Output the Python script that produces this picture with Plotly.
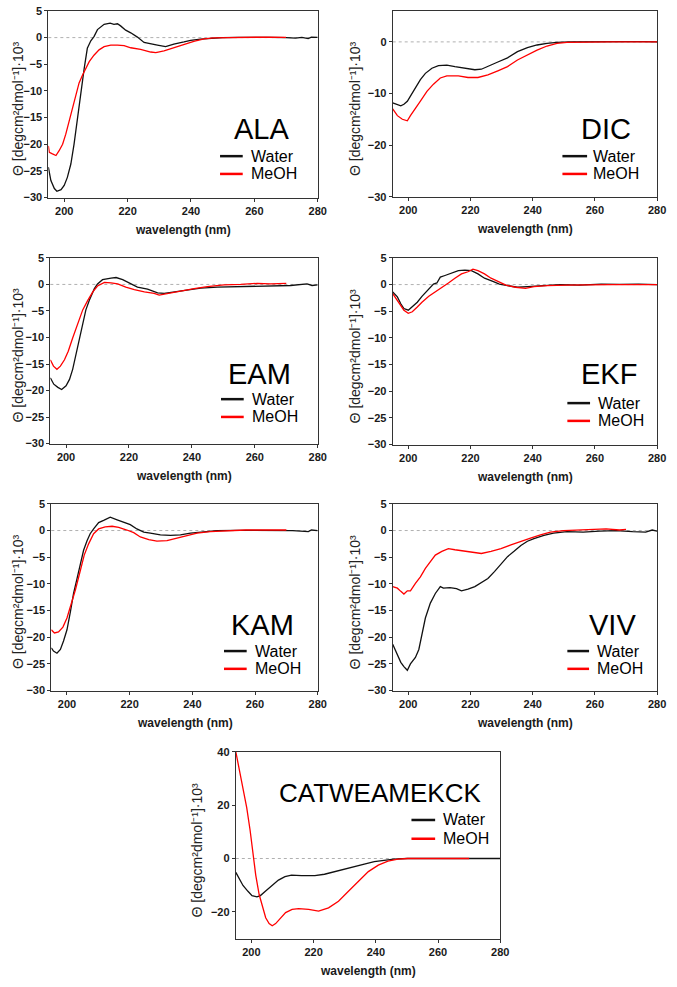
import plotly.graph_objects as go

W, H = 677, 987

# ---------------- data (wavelength in nm, ellipticity x10^3) ----------------
ala_water_nm = [195, 195.8, 196.9, 197.7, 199, 200, 201, 202.1, 203.1, 204.2, 205.2, 206.3, 207.3, 208.4, 209.4,
                210.5, 212.6, 214.5, 215.7, 216.8, 217.8, 219.4, 221, 223.1, 225.2, 227.3, 229.4, 232, 234.6,
                237.8, 239.9, 243, 246.2, 250, 255, 260, 265, 270, 273, 275, 277, 278, 280]
ala_water_cd = [-24.3, -26.8, -28.3, -28.8, -28.5, -27.7, -26.2, -23.7, -20, -15, -10, -5.8, -2, -0.6, 0.2,
                1.5, 2.5, 2.7, 2.5, 2.6, 2.2, 1.4, 0.9, 0.1, -0.9, -1.1, -1.4, -1.7, -1.2,
                -0.8, -0.5, -0.3, -0.1, 0, 0.05, 0.1, 0.05, 0, -0.1, 0.05, -0.2, 0.1, 0.05]
ala_meoh_nm = [195, 195.3, 196.3, 197.4, 198.4, 199.5, 200.5, 201.6, 202.6, 203.7, 204.7, 205.8, 206.8, 207.9,
               209.4, 211, 212.6, 214.7, 216.8, 218.9, 221, 224.1, 227.3, 228.9, 231.5, 234.6, 237.8, 240.9,
               244.1, 247.2, 252, 258, 264, 270]
ala_meoh_cd = [-20.3, -21.5, -21.8, -22.1, -21.2, -20, -18.1, -15.6, -13.2, -10.7, -8.5, -7, -5.8, -4.5,
               -3.3, -2.3, -1.7, -1.4, -1.4, -1.5, -1.9, -2.2, -2.7, -2.8, -2.5, -1.9, -1.3, -0.7,
               -0.25, -0.05, 0, 0.1, 0.1, 0.05]

dic_water_nm = [195, 196.5, 197.6, 198.6, 199.7, 200.7, 202.3, 203.9, 205.5, 207.6, 209.7, 212.4, 215, 218.2,
                221.4, 223.5, 225.6, 228.8, 231.9, 235.1, 238.3, 241.4, 244.6, 247.8, 252, 258, 264, 270, 276, 280]
dic_water_cd = [-11.8, -12.1, -12.4, -12.1, -11.5, -10.5, -8.9, -7.3, -6.1, -5.1, -4.6, -4.5, -4.8, -5.1,
                -5.4, -5.3, -4.8, -3.9, -3.1, -1.9, -1.1, -0.6, -0.3, -0.1, 0, 0.05, 0.1, 0.05, 0.05, 0]
dic_meoh_nm = [195, 196.5, 198.1, 199.7, 200.7, 202.3, 203.9, 206, 208.1, 210.3, 212.4, 216.1, 219.2, 222.4,
               225.6, 228.8, 231.9, 235.1, 238.3, 241.4, 244.6, 247.8, 251, 258, 265, 272, 280]
dic_meoh_cd = [-13, -14.3, -15, -15.3, -14.3, -13, -11.5, -9.6, -8.2, -7, -6.6, -6.6, -6.9, -6.9,
               -6.4, -5.6, -4.8, -3.5, -2.5, -1.6, -0.8, -0.3, -0.1, 0, 0, 0, 0]

eam_water_nm = [195, 196.1, 197.4, 198.6, 200, 201.1, 202.1, 203.2, 204.2, 205.3, 206.3, 207.4, 209, 210,
                211.6, 214.3, 215.9, 218, 220.1, 222.7, 225.9, 229.1, 231.2, 234.4, 238.6, 242.8, 248.1,
                254.4, 260.8, 267.1, 271.4, 276.6, 278.2, 280]
eam_water_cd = [-17.6, -18.8, -19.4, -19.8, -19.1, -17.9, -16, -13.2, -10.1, -7.3, -4.8, -3, -0.8, 0.1,
                0.9, 1.2, 1.3, 0.9, 0.3, -0.5, -0.9, -1.6, -1.7, -1.4, -1.1, -0.7, -0.5,
                -0.4, -0.4, -0.3, -0.2, 0.1, -0.2, -0.1]
eam_meoh_nm = [195, 196, 197.1, 198.2, 199.5, 200.7, 202.1, 203.7, 205.3, 206.9, 208.5, 210, 212.2, 214.3,
               216.4, 219, 221.7, 224.9, 228, 229.6, 232.2, 236.5, 240.7, 244.9, 250.2, 255.5, 260.8, 265, 269.2, 270]
eam_meoh_cd = [-14.2, -15.4, -16, -15.4, -14.2, -12.6, -10.1, -7.3, -4.8, -3, -1.4, -0.3, 0.4, 0.3,
               0.1, -0.5, -1, -1.4, -1.7, -2, -1.7, -1.2, -0.8, -0.4, -0.1, 0, 0.2, 0.1, 0.3, 0.2]

ekf_water_nm = [195, 196.5, 197.6, 198.6, 200, 201.3, 202.9, 204.4, 206.6, 208.1, 209.2, 210.3, 211.8, 213.9,
                216.1, 218.2, 220.3, 222.4, 224.5, 227.2, 229.3, 231.9, 235.1, 238.3, 242.5, 248.8, 255, 262,
                268, 274, 280]
ekf_water_cd = [-1.4, -2.3, -3.6, -4.5, -4.8, -4.2, -3.3, -2.2, -0.8, 0.1, 0.3, 1.4, 1.7, 2.1,
                2.6, 2.7, 2.6, 2, 1.2, 0.6, 0.1, -0.2, -0.5, -0.4, -0.2, 0, -0.1, 0.1, 0.05, 0.1, 0]
ekf_meoh_nm = [195, 196.5, 197.6, 198.6, 200, 201.3, 202.9, 204.4, 206.6, 208.7, 210.8, 212.9, 215, 217.1,
               219.2, 220.8, 222.4, 224.5, 226.6, 229.3, 231.4, 234.5, 237.7, 240.4, 244.6, 250.9, 258, 265, 272, 280]
ekf_meoh_cd = [-1.7, -3, -3.9, -4.8, -5.4, -5.1, -4.2, -3.3, -2.2, -1.4, -0.5, 0.3, 1.2, 2,
               2.4, 2.9, 2.6, 2, 1.2, 0.4, -0.1, -0.5, -0.7, -0.4, -0.2, -0.1, 0, 0, 0, 0]

kam_water_nm = [195, 195.7, 196.8, 197.9, 198.9, 200, 201.1, 202.1, 203.2, 204.3, 205.3, 206.4, 207.4, 208.5,
                210.1, 211.7, 213.8, 216, 218.1, 220.2, 222.3, 224.5, 226.6, 229.8, 233, 236.2, 239.4, 243.6,
                247.9, 254, 260, 266, 272, 277, 278, 280]
kam_water_cd = [-22, -22.6, -23, -22.3, -20.7, -18.6, -15.2, -11.8, -9, -6.2, -3.7, -1.9, -0.6, 0.3,
                1.5, 1.9, 2.5, 2, 1.5, 1.1, 0.3, -0.3, -0.5, -0.8, -0.9, -0.8, -0.5, -0.2,
                0, 0.05, 0.05, 0, 0, -0.2, 0.1, 0]
kam_meoh_nm = [195, 196, 197.3, 198.7, 200, 201.3, 202.7, 204.3, 205.5, 206.9, 208.5, 210.1, 212.2, 214.4,
               216.5, 219.1, 221.3, 223.4, 226.1, 228.7, 231.9, 235.1, 238.3, 241.5, 245.7, 251.1, 257, 263, 270]
kam_meoh_cd = [-18.6, -19.2, -19, -18.1, -16.4, -13.9, -11.1, -7.4, -4.6, -2.5, -0.6, 0.3, 0.7, 0.8,
               0.6, 0.1, -0.4, -1.2, -1.7, -2, -1.9, -1.4, -0.9, -0.5, -0.2, 0, 0.1, 0.1, 0.1]

viv_water_nm = [195, 196.5, 197.6, 198.6, 199.7, 200.7, 202.3, 203.4, 204.4, 205.5, 207.1, 208.7, 210.3, 211.3,
                213.4, 215.5, 217.1, 219.2, 221.4, 223.5, 225.6, 227.7, 229.8, 231.9, 234, 236.2, 238.3,
                240.4, 243.6, 246.7, 251, 256.2, 261.5, 266.8, 272.1, 276.3, 278.4, 280]
viv_water_cd = [-21.3, -23.2, -24.7, -25.5, -26.2, -25, -23.8, -22.3, -19.5, -16.4, -13.6, -11.8, -10.5, -10.8,
                -10.7, -10.9, -11.3, -11, -10.5, -9.7, -9, -7.7, -6.2, -4.9, -3.9, -2.8, -2,
                -1.5, -0.9, -0.5, -0.2, -0.3, -0.1, 0, -0.2, -0.3, 0.1, -0.1]
viv_meoh_nm = [195, 196.5, 197.6, 198.6, 199.7, 200.7, 202.3, 203.9, 205.5, 207.1, 208.7, 210.8, 212.9, 215,
               218.2, 221.4, 223.5, 226.6, 229.8, 233, 236.2, 239.3, 242.5, 245.7, 249.9, 254.1, 259.4,
               263.6, 267.9, 270]
viv_meoh_cd = [-10.5, -10.8, -11.4, -11.9, -11.3, -11.3, -9.9, -8.7, -7.1, -5.9, -4.6, -3.9, -3.4, -3.6,
               -3.9, -4.1, -4.3, -3.9, -3.4, -2.7, -2, -1.4, -0.8, -0.3, 0, 0.1, 0.1,
               0.3, 0.1, 0.2]

cat_water_nm = [195, 196.2, 197.3, 198.9, 200.2, 201.8, 202.9, 204.5, 206.6, 208.7, 210.8, 212.9, 216.1, 220.4,
                223.5, 226.7, 229.9, 233.1, 236.3, 239.5, 242.7, 245.8, 250.1, 260, 270, 280]
cat_water_cd = [-5.2, -8, -10.1, -12.3, -13.9, -14.4, -13.9, -12.3, -10.1, -8.1, -6.8, -6.2, -6.4, -6.4,
                -5.9, -4.9, -3.9, -3.1, -2.1, -1.2, -0.6, -0.2, 0, 0, 0, 0]
cat_meoh_nm = [195, 196.2, 197.3, 198.5, 199.6, 200.6, 201.4, 202.5, 203.6, 204.6, 205.7, 206.7, 207.8, 209.4,
               211, 213.1, 215.2, 218.4, 221.6, 224.8, 228, 231.2, 234.4, 237.6, 240.8, 243.9, 247.1,
               250.3, 260, 270]
cat_meoh_cd = [40, 33.3, 27.1, 19.1, 10.5, 1.2, -6.2, -13.5, -18.5, -22.2, -24.4, -25.2, -24.4, -22.2,
               -20.3, -19.1, -18.8, -19.1, -19.7, -18.5, -16, -12.3, -8.6, -4.9, -2.5, -1, -0.2,
               0, 0, 0]

panel_names = ["ALA", "DIC", "EAM", "EKF", "KAM", "VIV", "CATWEAMEKCK"]
series_water = [(ala_water_nm, ala_water_cd), (dic_water_nm, dic_water_cd), (eam_water_nm, eam_water_cd),
                (ekf_water_nm, ekf_water_cd), (kam_water_nm, kam_water_cd), (viv_water_nm, viv_water_cd),
                (cat_water_nm, cat_water_cd)]
series_meoh = [(ala_meoh_nm, ala_meoh_cd), (dic_meoh_nm, dic_meoh_cd), (eam_meoh_nm, eam_meoh_cd),
               (ekf_meoh_nm, ekf_meoh_cd), (kam_meoh_nm, kam_meoh_cd), (viv_meoh_nm, viv_meoh_cd),
               (cat_meoh_nm, cat_meoh_cd)]
legend_labels = ["Water", "MeOH"]
x_ticks = [200, 220, 240, 260, 280]

# ---------------- layout (pixel boxes) ----------------
panels = [
    dict(box=(49, 322, 5, 194), yr=[-30, 5], yt=[5, 0, -5, -10, -15, -20, -25, -30], fs=29),
    dict(box=(398, 666, 5, 193), yr=[-30, 6], yt=[0, -10, -20, -30], fs=29),
    dict(box=(51, 322, 255, 443), yr=[-30, 5], yt=[5, 0, -5, -10, -15, -20, -25, -30], fs=29),
    dict(box=(398, 666, 255, 444), yr=[-30, 5], yt=[5, 0, -5, -10, -15, -20, -25, -30], fs=29),
    dict(box=(52, 322, 504, 693), yr=[-30, 5], yt=[5, 0, -5, -10, -15, -20, -25, -30], fs=29),
    dict(box=(398, 666, 504, 693), yr=[-30, 5], yt=[5, 0, -5, -10, -15, -20, -25, -30], fs=29),
    dict(box=(239, 507, 755, 944), yr=[-30, 40], yt=[40, 20, 0, -20], fs=26),
]
extras = [
    dict(lab=(295, 125), sw=(223, 246, 152, 170), tx=252, yt=18),
    dict(lab=(642, 125), sw=(570, 595, 152, 170), tx=599, yt=360),
    dict(lab=(297, 373), sw=(224, 247, 398, 416), tx=253, yt=18),
    dict(lab=(648, 373), sw=(575, 598, 402, 420), tx=604, yt=360),
    dict(lab=(300, 627), sw=(227, 250, 653, 671), tx=256, yt=18),
    dict(lab=(647, 627), sw=(575, 597, 653, 671), tx=603, yt=360),
    dict(lab=(490, 797), sw=(417, 441, 824, 843), tx=447, yt=200),
]


def px(xp):
    return xp / W


def py(yp):
    return 1 - yp / H


FONT = "Arial, 'Liberation Sans', sans-serif"
fig = go.Figure()
shapes, annos = [], []
ytitle = "Θ [degcm²dmol⁻¹]·10³"

for i, (p, e) in enumerate(zip(panels, extras)):
    n = "" if i == 0 else str(i + 1)
    l, r, t, b = p["box"]
    xa, ya = "x" + n, "y" + n
    for (nm, cd), col in ((series_water[i], "#111111"), (series_meoh[i], "#ff0000")):
        fig.add_trace(go.Scatter(x=nm, y=cd, mode="lines", line=dict(color=col, width=1.3),
                                 xaxis=xa, yaxis=ya, showlegend=False, hoverinfo="skip"))
    common = dict(showline=True, mirror=True, linecolor="#333333", linewidth=1, showgrid=False,
                  zeroline=False, ticks="outside", ticklen=3, tickcolor="#333333",
                  ticklabeloverflow="allow", fixedrange=True,
                  tickfont=dict(family=FONT, size=11, color="#1a1a1a", weight="bold"))
    fig.layout["xaxis" + n] = dict(domain=[px(l), px(r)], anchor=ya, range=[195, 280],
                                   tickvals=x_ticks, **common)
    fig.layout["yaxis" + n] = dict(domain=[py(b), py(t)], anchor=xa, range=p["yr"],
                                   tickvals=p["yt"], **common)
    shapes.append(dict(type="line", xref=xa + " domain", yref=ya, x0=0, x1=1, y0=0, y1=0,
                       line=dict(color="#b0b0b0", width=1, dash="dot"), layer="below"))
    annos.append(dict(x=px((l + r) / 2), y=py(b + 33), xref="paper", yref="paper",
                      text="wavelength (nm)", showarrow=False, xanchor="center", yanchor="middle",
                      font=dict(family=FONT, size=12, color="#1a1a1a", weight="bold")))
    annos.append(dict(x=px(e["yt"]), y=py((t + b) / 2 + 5), xref="paper", yref="paper",
                      text=ytitle, textangle=-90, showarrow=False, xanchor="center", yanchor="middle",
                      font=dict(family=FONT, size=14, color="#222222")))
    lx, ly = e["lab"]
    annos.append(dict(x=px(lx), y=py(ly), xref="paper", yref="paper", text=panel_names[i],
                      showarrow=False, xanchor="right", yanchor="middle",
                      font=dict(family=FONT, size=p["fs"], color="#000000")))
    x0, x1, y1, y2 = e["sw"]
    for yy, col, lab in ((y1, "#111111", legend_labels[0]), (y2, "#ff0000", legend_labels[1])):
        shapes.append(dict(type="line", xref="paper", yref="paper", x0=px(x0), x1=px(x1),
                           y0=py(yy), y1=py(yy), line=dict(color=col, width=2.5)))
        annos.append(dict(x=px(e["tx"]), y=py(yy), xref="paper", yref="paper", text=lab,
                          showarrow=False, xanchor="left", yanchor="middle",
                          font=dict(family=FONT, size=16, color="#000000")))

fig.update_layout(width=W, height=H, autosize=False, margin=dict(l=0, r=0, t=0, b=0),
                  paper_bgcolor="white", plot_bgcolor="white", shapes=shapes, annotations=annos,
                  showlegend=False, hovermode=False)
fig.write_html("out.html", config={"displayModeBar": False, "staticPlot": True},
               post_script="document.body.style.margin='0px';document.body.style.overflow='hidden';")
